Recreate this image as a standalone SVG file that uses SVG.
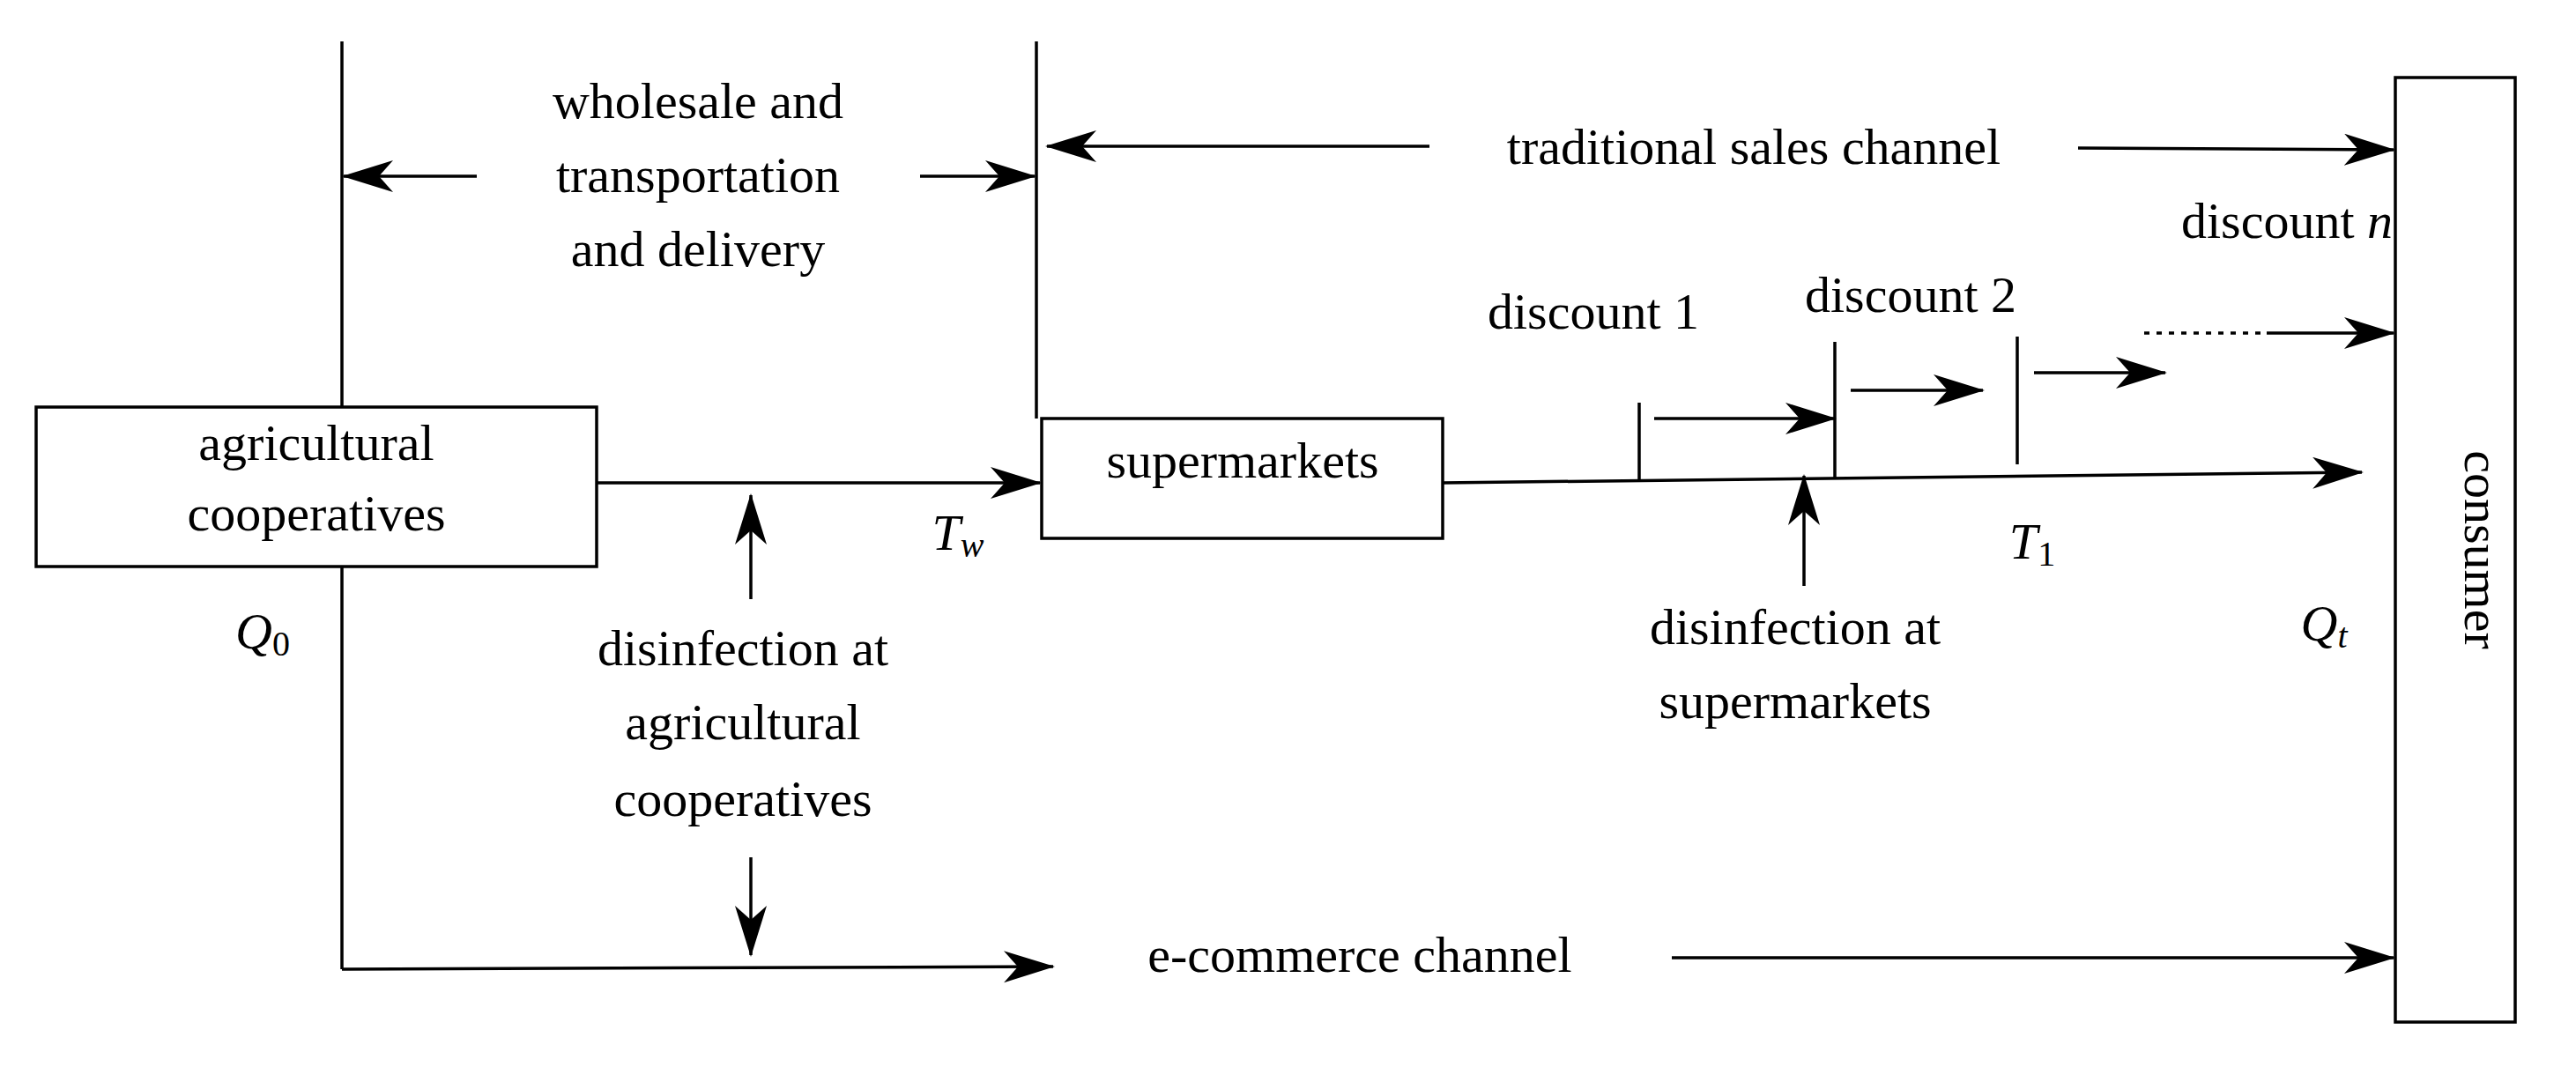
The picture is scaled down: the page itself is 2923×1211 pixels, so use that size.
<svg xmlns="http://www.w3.org/2000/svg" width="2923" height="1211" viewBox="0 0 2923 1211">
<style>
text{font-family:"Liberation Serif","Times New Roman",serif;font-size:58px;fill:#000;text-anchor:middle}
.l{stroke:#000;stroke-width:3.5;fill:none}
.a{stroke:#000;stroke-width:3.5;fill:none;marker-end:url(#ah)}
.box{fill:#fff;stroke:#000;stroke-width:3.5}
.i{font-style:italic}
</style>
<defs>
<marker id="ah" markerUnits="userSpaceOnUse" markerWidth="60" markerHeight="40" refX="56" refY="18" orient="auto">
<path d="M0,0 L58,18 L0,36 L16,18 z" fill="#000"/>
</marker>
</defs>
<rect width="2923" height="1211" fill="#fff"/>
<g id="connectors">
<path class="l" d="M388,47 V462 M388,643 V1100"/>
<path class="a" d="M388,1100 L1195,1097"/>
<path class="l" d="M1176,47 V475"/>
<path class="a" d="M677,548 H1180"/>
<path class="a" d="M852,680 V562"/>
<path class="a" d="M541,200 H390"/>
<path class="a" d="M1044,200 H1174"/>
<path class="a" d="M1622,166 H1188"/>
<path class="a" d="M2358,168 L2716,170"/>
<path class="l" d="M2433,378 H2572" stroke-dasharray="6,8" stroke-width="2.5"/>
<path class="a" d="M2572,378 H2716"/>
<path class="a" d="M1637,548 L2680,536"/>
<path class="l" d="M1860,457 V546 M2082,388 V542 M2289,382 V527"/>
<path class="a" d="M1877,475 H2082"/>
<path class="a" d="M2100,443 H2250"/>
<path class="a" d="M2308,423 H2457"/>
<path class="a" d="M2047,665 V540"/>
<path class="a" d="M852,973 V1084"/>
<path class="a" d="M1897,1087 H2716"/>
</g>
<g id="agri"><rect class="box" x="41" y="462" width="636" height="181"/>
<text x="359" y="522">agricultural</text><text x="359" y="602">cooperatives</text></g>
<g id="super"><rect class="box" x="1182" y="475" width="455" height="136"/>
<text x="1410" y="542">supermarkets</text></g>
<g id="consumer"><rect class="box" x="2718" y="88" width="136" height="1072"/>
<text transform="translate(2797,624) rotate(90)">consumer</text></g>
<g id="labels">
<text x="792" y="134">wholesale and</text>
<text x="792" y="218">transportation</text>
<text x="792" y="302">and delivery</text>
<text x="1990" y="186">traditional sales channel</text>
<text x="2715" y="270" text-anchor="end" style="text-anchor:end">discount <tspan class="i">n</tspan></text>
<text x="1808" y="373">discount 1</text>
<text x="2168" y="354">discount 2</text>
<text x="2037" y="731">disinfection at</text>
<text x="2037" y="815">supermarkets</text>
<text x="843" y="755">disinfection at</text>
<text x="843" y="839">agricultural</text>
<text x="843" y="926">cooperatives</text>
<text x="1543" y="1103">e-commerce channel</text>
<text class="i" x="1087" y="624">T<tspan font-size="40" dy="8">w</tspan></text>
<text class="i" x="2306" y="634">T<tspan font-size="40" dy="8" font-style="normal">1</tspan></text>
<text class="i" x="2637" y="727">Q<tspan font-size="40" dy="8">t</tspan></text>
<text class="i" x="298" y="736">Q<tspan font-size="40" dy="8" font-style="normal">0</tspan></text>
</g>
</svg>
